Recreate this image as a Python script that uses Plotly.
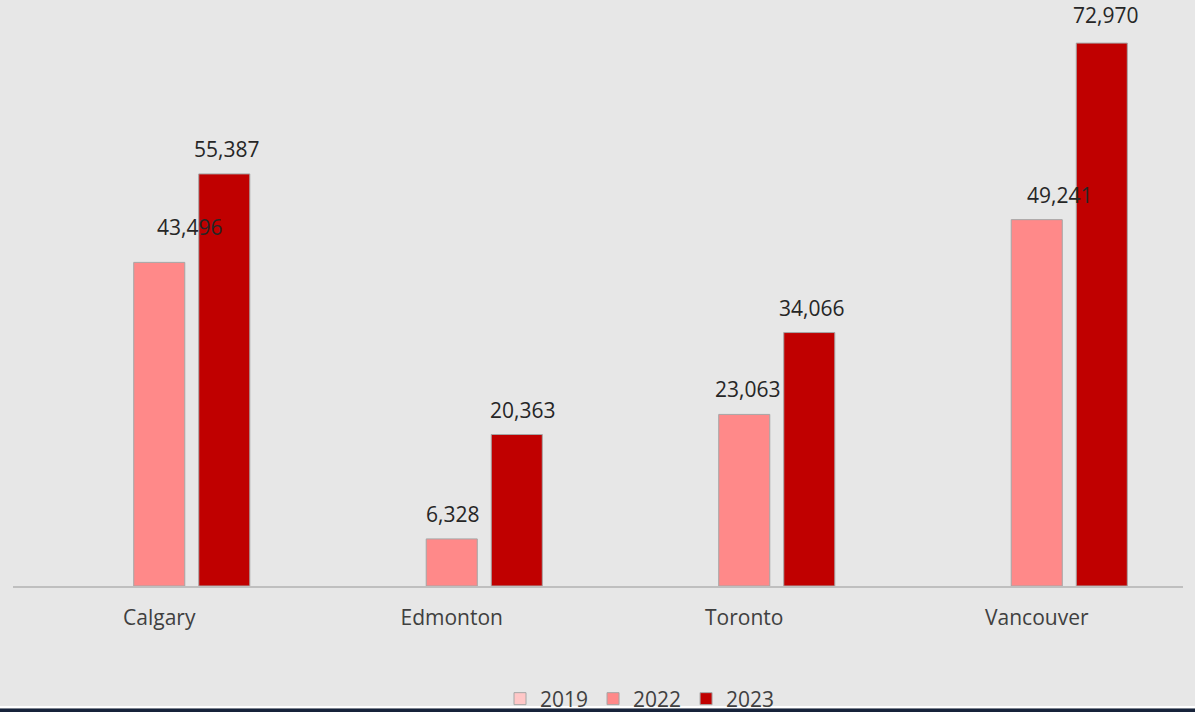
import plotly.graph_objects as go

cities = ["Calgary", "Edmonton", "Toronto", "Vancouver"]
years = ["2019", "2022", "2023"]
v2019 = [None, None, None, None]
v2022 = [43496, 6328, 23063, 49241]
v2023 = [55387, 20363, 34066, 72970]

colors = {"2019": "#ffc7c7", "2022": "#ff8989", "2023": "#c00000"}

W, H = 1195, 712
ml, mr, mt, mb = 13, 12, 28, 126
plot_w = W - ml - mr
plot_h = H - mt - mb
bargap = 0.333
bargroupgap = 0.215
cat_w = plot_w / len(cities)
slot = cat_w * (1 - bargap) / 3

fig = go.Figure()
for yr, vals in zip(years, [v2019, v2022, v2023]):
    fig.add_trace(go.Bar(
        name=yr, x=cities, y=vals,
        marker=dict(color=colors[yr], line=dict(color="#a6a6a6", width=1)),
    ))

# label offsets (pixels) mimicking the original label placement
dx22 = [30, 1, 3, 23]
dy22 = [35, 25, 25, 25]
dx23 = [2, 6, 2, 4]
dy23 = [25, 25, 25, 28]

ann = []
for i, c in enumerate(cities):
    ann.append(dict(x=c, y=v2022[i], xref="x", yref="y", text=f"{v2022[i]:,}",
                    showarrow=False, xshift=dx22[i], yshift=dy22[i], yanchor="middle",
                    font=dict(family="Open Sans", size=21, color="#262626")))
    ann.append(dict(x=c, y=v2023[i], xref="x", yref="y", text=f"{v2023[i]:,}",
                    showarrow=False, xshift=slot + dx23[i], yshift=dy23[i], yanchor="middle",
                    font=dict(family="Open Sans", size=21, color="#262626")))

def py(pix):
    return (H - mb - pix) / plot_h

shapes = [
    dict(type="rect", xref="paper", yref="paper", x0=-ml / plot_w, x1=1 + mr / plot_w,
         y0=py(708), y1=py(706), fillcolor="#ffffff", line=dict(width=0), layer="above"),
    dict(type="rect", xref="paper", yref="paper", x0=-ml / plot_w, x1=1 + mr / plot_w,
         y0=py(713), y1=py(708.5), fillcolor="#17233a", line=dict(width=0), layer="above"),
]

fig.update_layout(
    width=W, height=H, autosize=False,
    margin=dict(l=ml, r=mr, t=mt, b=mb, autoexpand=False),
    paper_bgcolor="#e7e7e7", plot_bgcolor="#e7e7e7",
    barmode="group", bargap=bargap, bargroupgap=bargroupgap,
    font=dict(family="Open Sans", size=21, color="#404040"),
    xaxis=dict(showline=True, linecolor="#bfbfbf", linewidth=2, ticks="",
               tickfont=dict(size=21, color="#404040"), ticklabelstandoff=12,
               showgrid=False, zeroline=False),
    yaxis=dict(range=[0, 75000], visible=False, showgrid=False, zeroline=False),
    legend=dict(orientation="h", xref="paper", x=(640 - ml) / plot_w, xanchor="center",
                yref="container", y=(H - 699) / H, yanchor="middle",
                font=dict(size=21, color="#404040"), bgcolor="rgba(0,0,0,0)",
                itemwidth=30, tracegroupgap=0),
    annotations=ann, shapes=shapes, showlegend=True,
)

fig.write_html("out.html", config={"displayModeBar": False},
               post_script="document.body.style.margin='0';document.body.style.overflow='hidden';")
